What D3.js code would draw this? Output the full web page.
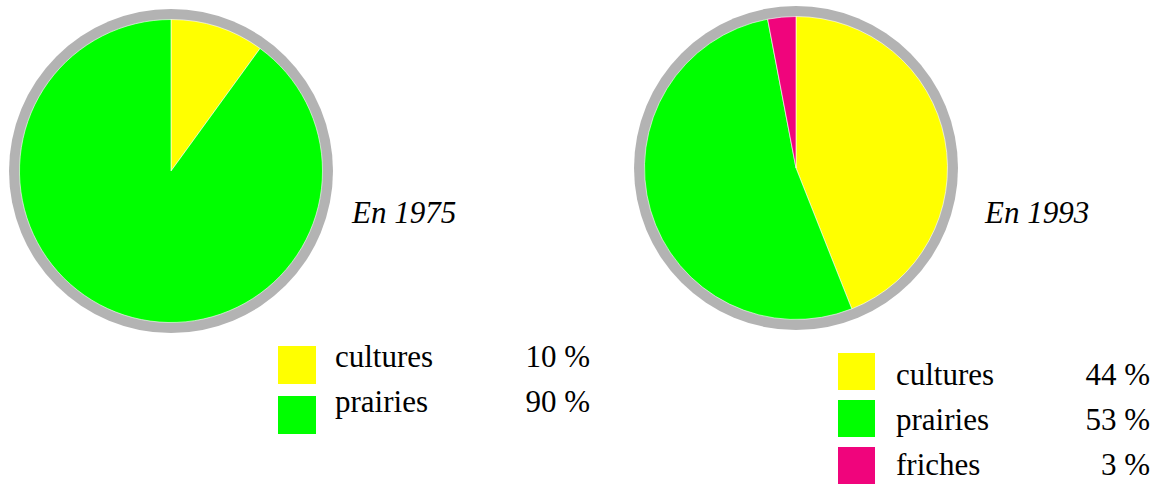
<!DOCTYPE html>
<html><head><meta charset="utf-8"><script src="https://cdn.jsdelivr.net/npm/d3@7"></script></head>
<body style="margin:0">
<svg id="chart" width="1158" height="484"></svg>
<script>
// ---- data ----
var categories = ["cultures", "prairies", "friches"];
var colors = ["#ffff00", "#00ff00", "#f0047c"];
var years = ["En 1975", "En 1993"];
var values1975 = [10, 90];
var values1993 = [44, 53, 3];
var labels1975 = ["10 %", "90 %"];
var labels1993 = ["44 %", "53 %", "3 %"];

var svg = d3.select("#chart");

// layout of each panel (pie centre, title, legend)
var panels = [
  { title: years[0], values: values1975, labels: labels1975,
    cx: 171, cy: 171, titleX: 352, titleY: 223,
    sqX: 278, sqY: 346, sqStep: 50, sqSize: 38,
    txtX: 335, baseY: 367, rowStep: 45, valX: 590 },
  { title: years[1], values: values1993, labels: labels1993,
    cx: 796, cy: 168, titleX: 985, titleY: 223,
    sqX: 838, sqY: 353, sqStep: 47, sqSize: 37,
    txtX: 896, baseY: 385, rowStep: 45, valX: 1150 }
];

var rPie = 151.5;
var rRing = 162;

var pie = d3.pie().sort(null).value(function(d) { return d; });
var arc = d3.arc().innerRadius(0).outerRadius(rPie);

panels.forEach(function(p) {
  var g = svg.append("g").attr("transform", "translate(" + p.cx + "," + p.cy + ")");

  // gray border ring
  g.append("circle").attr("r", rRing).attr("fill", "#b3b3b3");

  g.selectAll("path.slice")
    .data(pie(p.values))
    .enter()
    .append("path")
    .attr("class", "slice")
    .attr("d", arc)
    .attr("fill", function(d, i) { return colors[i]; })
    .attr("stroke", "#fff")
    .attr("stroke-width", 0.6);

  // title next to the pie
  svg.append("text")
    .attr("x", p.titleX)
    .attr("y", p.titleY)
    .style("font", "italic 31px serif")
    .text(p.title);

  // legend squares
  svg.selectAll(null).data(p.values).enter().append("rect")
    .attr("x", p.sqX)
    .attr("y", function(d, i) { return p.sqY + i * p.sqStep; })
    .attr("width", p.sqSize)
    .attr("height", p.sqSize)
    .attr("fill", function(d, i) { return colors[i]; });

  // legend names
  svg.selectAll(null).data(p.values).enter().append("text")
    .attr("x", p.txtX)
    .attr("y", function(d, i) { return p.baseY + i * p.rowStep; })
    .style("font", "31px serif")
    .text(function(d, i) { return categories[i]; });

  // legend percentages
  svg.selectAll(null).data(p.values).enter().append("text")
    .attr("x", p.valX)
    .attr("y", function(d, i) { return p.baseY + i * p.rowStep; })
    .style("font", "31px serif")
    .attr("text-anchor", "end")
    .text(function(d, i) { return p.labels[i]; });
});
</script>
</body></html>
